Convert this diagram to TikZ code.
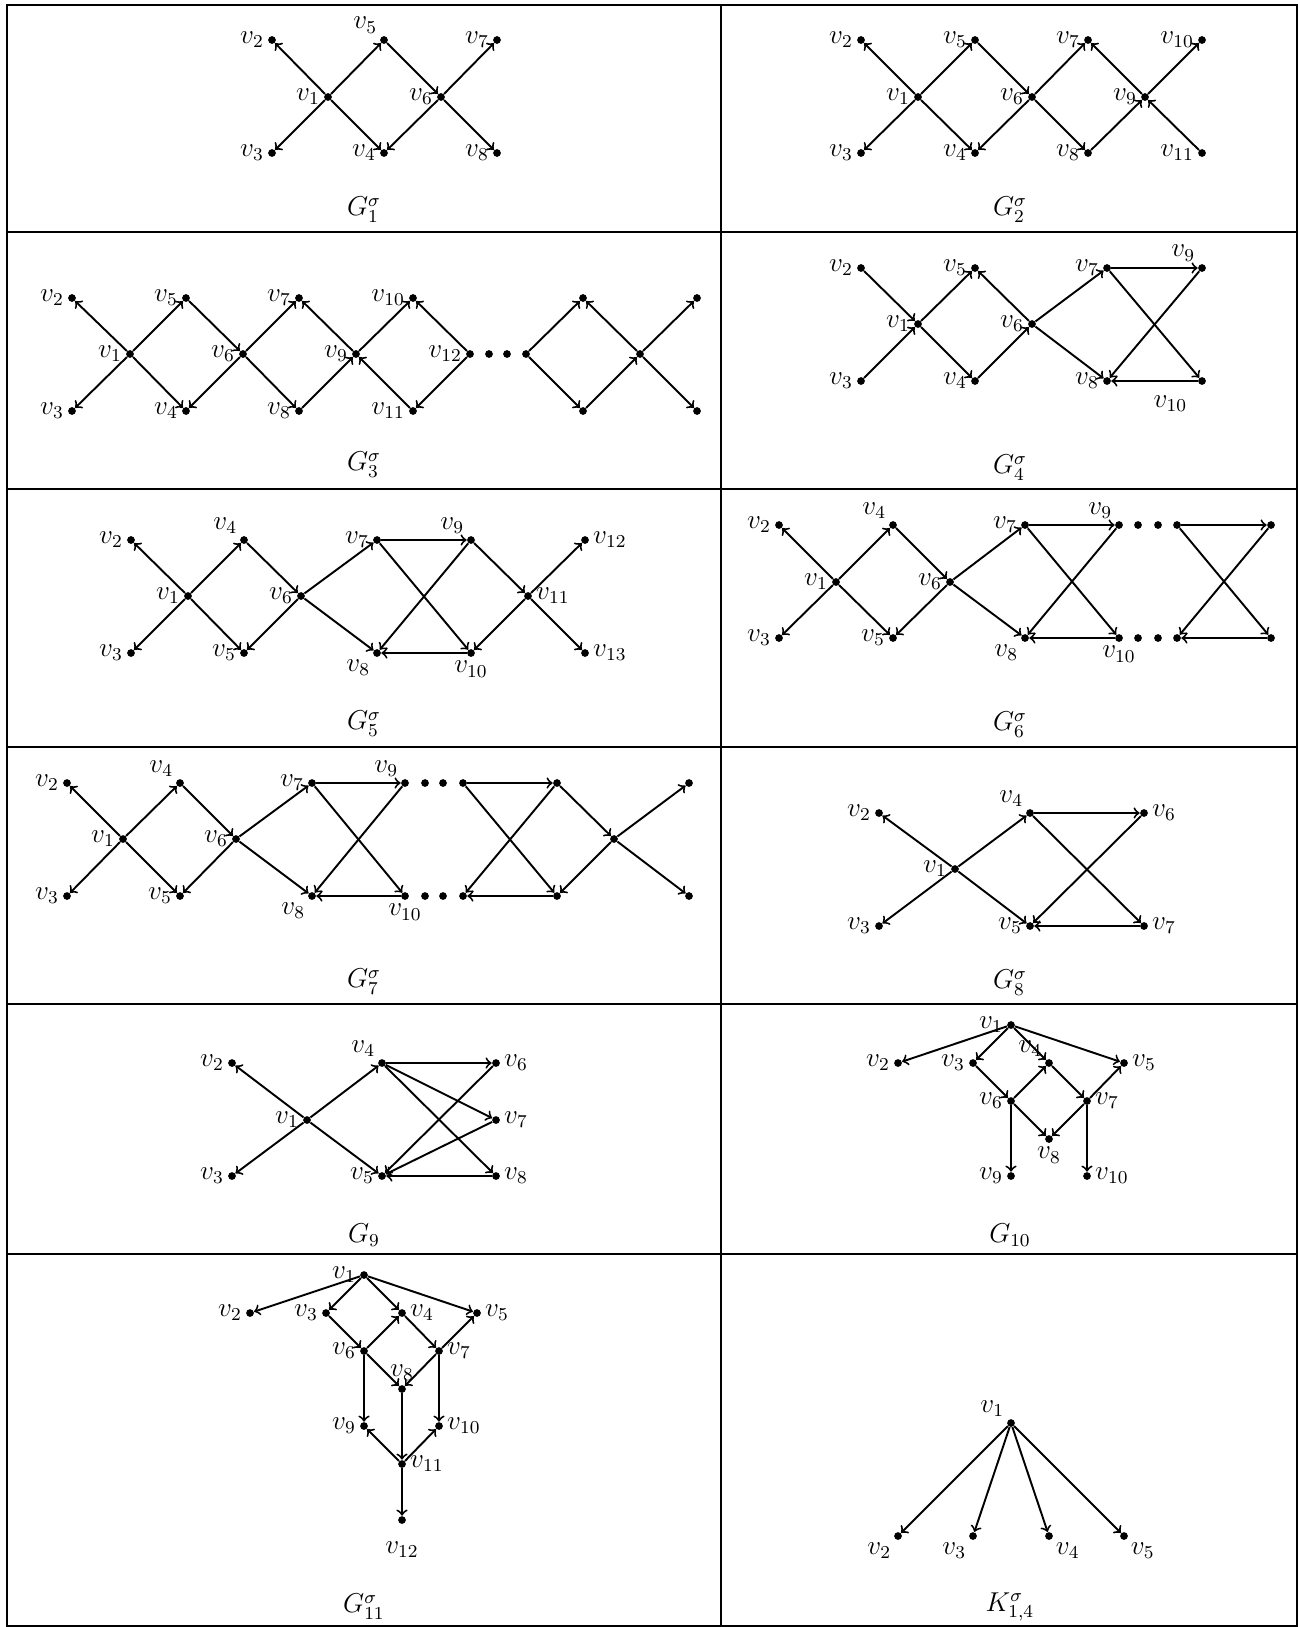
\documentclass[tikz,border=0pt]{standalone}
\begin{document}
\begin{tikzpicture}[x=0.44pt,y=-0.44pt,
  font=\large,
  vtx/.style={circle,fill,inner sep=0pt,minimum size=3.4pt},
  arr/.style={->,line width=0.85pt},
  every label/.style={inner sep=1.5pt}]
\useasboundingbox (0,0) rectangle (1299,1627);

% table
\draw[line width=0.5pt] (7,5) rectangle (1297,1626);
\draw[line width=0.5pt] (721,5) -- (721,1626);
\draw[line width=0.5pt] (7,232) -- (1297,232);
\draw[line width=0.5pt] (7,489) -- (1297,489);
\draw[line width=0.5pt] (7,747) -- (1297,747);
\draw[line width=0.5pt] (7,1004) -- (1297,1004);
\draw[line width=0.5pt] (7,1254) -- (1297,1254);

% G_1
\node[vtx,label=left:$v_1$] (p1v1) at (328,97) {};
\node[vtx,label=left:$v_2$] (p1v2) at (272,40) {};
\node[vtx,label=left:$v_3$] (p1v3) at (272,153) {};
\node[vtx,label=left:$v_4$] (p1v4) at (384,153) {};
\node[vtx,label=above left:$v_5$] (p1v5) at (384,40) {};
\node[vtx,label=left:$v_6$] (p1v6) at (441,97) {};
\node[vtx,label=left:$v_7$] (p1v7) at (497,40) {};
\node[vtx,label=left:$v_8$] (p1v8) at (497,153) {};
\path[arr] (p1v1) edge (p1v2) edge (p1v3) edge (p1v4) edge (p1v5);
\path[arr] (p1v5) edge (p1v6);
\path[arr] (p1v6) edge (p1v4) edge (p1v7) edge (p1v8);
\node (p1g) at (364,210) {$G_1^\sigma$};

% G_2
\node[vtx,label=left:$v_1$] (p2v1) at (918,97) {};
\node[vtx,label=left:$v_2$] (p2v2) at (861,40) {};
\node[vtx,label=left:$v_3$] (p2v3) at (861,153) {};
\node[vtx,label=left:$v_4$] (p2v4) at (975,153) {};
\node[vtx,label=left:$v_5$] (p2v5) at (975,40) {};
\node[vtx,label=left:$v_6$] (p2v6) at (1032,97) {};
\node[vtx,label=left:$v_7$] (p2v7) at (1088,40) {};
\node[vtx,label=left:$v_8$] (p2v8) at (1088,153) {};
\node[vtx,label=left:$v_9$] (p2v9) at (1145,97) {};
\node[vtx,label=left:$v_{10}$] (p2v10) at (1202,40) {};
\node[vtx,label=left:$v_{11}$] (p2v11) at (1202,153) {};
\path[arr] (p2v1) edge (p2v2) edge (p2v3) edge (p2v4) edge (p2v5);
\path[arr] (p2v5) edge (p2v6);
\path[arr] (p2v6) edge (p2v4) edge (p2v7) edge (p2v8);
\path[arr] (p2v8) edge (p2v9);
\path[arr] (p2v9) edge (p2v7) edge (p2v10);
\path[arr] (p2v11) edge (p2v9);
\node (p2g) at (1010,210) {$G_2^\sigma$};

% G_3
\node[vtx,label=left:$v_1$] (p3v1) at (130,354) {};
\node[vtx,label=left:$v_2$] (p3v2) at (72,298) {};
\node[vtx,label=left:$v_3$] (p3v3) at (72,411) {};
\node[vtx,label=left:$v_4$] (p3v4) at (186,411) {};
\node[vtx,label=left:$v_5$] (p3v5) at (186,298) {};
\node[vtx,label=left:$v_6$] (p3v6) at (243,354) {};
\node[vtx,label=left:$v_7$] (p3v7) at (299,298) {};
\node[vtx,label=left:$v_8$] (p3v8) at (299,411) {};
\node[vtx,label=left:$v_9$] (p3v9) at (356,354) {};
\node[vtx,label=left:$v_{10}$] (p3v10) at (413,298) {};
\node[vtx,label=left:$v_{11}$] (p3v11) at (413,411) {};
\node[vtx,label=left:$v_{12}$] (p3v12) at (470,354) {};
\node[vtx] (p3d1) at (489,354) {};
\node[vtx] (p3d2) at (507,354) {};
\node[vtx] (p3c) at (526,354) {};
\node[vtx] (p3a) at (583,298) {};
\node[vtx] (p3e) at (583,411) {};
\node[vtx] (p3m) at (640,354) {};
\node[vtx] (p3b) at (697,298) {};
\node[vtx] (p3f) at (697,411) {};
\path[arr] (p3v1) edge (p3v2) edge (p3v3) edge (p3v4) edge (p3v5);
\path[arr] (p3v5) edge (p3v6);
\path[arr] (p3v6) edge (p3v4) edge (p3v7) edge (p3v8);
\path[arr] (p3v8) edge (p3v9);
\path[arr] (p3v9) edge (p3v7) edge (p3v10);
\path[arr] (p3v11) edge (p3v9);
\path[arr] (p3v12) edge (p3v10) edge (p3v11);
\path[arr] (p3c) edge (p3a) edge (p3e);
\path[arr] (p3e) edge (p3m);
\path[arr] (p3m) edge (p3a) edge (p3b) edge (p3f);
\node (p3g) at (364,465) {$G_3^\sigma$};

% G_4
\node[vtx,label=left:$v_1$] (p4v1) at (918,324) {};
\node[vtx,label=left:$v_2$] (p4v2) at (861,268) {};
\node[vtx,label=left:$v_3$] (p4v3) at (861,381) {};
\node[vtx,label=left:$v_4$] (p4v4) at (975,381) {};
\node[vtx,label=left:$v_5$] (p4v5) at (975,268) {};
\node[vtx,label=left:$v_6$] (p4v6) at (1032,324) {};
\node[vtx,label=left:$v_7$] (p4v7) at (1107,268) {};
\node[vtx,label=left:$v_8$] (p4v8) at (1107,381) {};
\node[vtx,label=above left:$v_9$] (p4v9) at (1202,268) {};
\node[vtx,label={[label distance=5pt]below left:$v_{10}$}] (p4v10) at (1202,381) {};
\path[arr] (p4v2) edge (p4v1);
\path[arr] (p4v3) edge (p4v1);
\path[arr] (p4v1) edge (p4v5) edge (p4v4);
\path[arr] (p4v4) edge (p4v6);
\path[arr] (p4v6) edge (p4v5) edge (p4v7) edge (p4v8);
\path[arr] (p4v7) edge (p4v9) edge (p4v10);
\path[arr] (p4v9) edge (p4v8);
\path[arr] (p4v10) edge (p4v8);
\node (p4g) at (1010,468) {$G_4^\sigma$};

% G_5
\node[vtx,label=left:$v_1$] (p5v1) at (188,596) {};
\node[vtx,label=left:$v_2$] (p5v2) at (131,540) {};
\node[vtx,label=left:$v_3$] (p5v3) at (131,653) {};
\node[vtx,label=above left:$v_4$] (p5v4) at (244,540) {};
\node[vtx,label=left:$v_5$] (p5v5) at (244,653) {};
\node[vtx,label=left:$v_6$] (p5v6) at (301,596) {};
\node[vtx,label=left:$v_7$] (p5v7) at (377,540) {};
\node[vtx,label=below left:$v_8$] (p5v8) at (377,653) {};
\node[vtx,label=above left:$v_9$] (p5v9) at (471,540) {};
\node[vtx,label=below:$v_{10}$] (p5v10) at (471,653) {};
\node[vtx,label=right:$v_{11}$] (p5v11) at (528,596) {};
\node[vtx,label=right:$v_{12}$] (p5v12) at (585,540) {};
\node[vtx,label=right:$v_{13}$] (p5v13) at (585,653) {};
\path[arr] (p5v1) edge (p5v2) edge (p5v3) edge (p5v4) edge (p5v5);
\path[arr] (p5v4) edge (p5v6);
\path[arr] (p5v6) edge (p5v5) edge (p5v7) edge (p5v8);
\path[arr] (p5v7) edge (p5v9) edge (p5v10);
\path[arr] (p5v9) edge (p5v8) edge (p5v11);
\path[arr] (p5v10) edge (p5v8);
\path[arr] (p5v11) edge (p5v10) edge (p5v12) edge (p5v13);
\node (p5g) at (364,724) {$G_5^\sigma$};

% G_6
\node[vtx,label=left:$v_1$] (p6v1) at (836,582) {};
\node[vtx,label=left:$v_2$] (p6v2) at (779,525) {};
\node[vtx,label=left:$v_3$] (p6v3) at (779,638) {};
\node[vtx,label=above left:$v_4$] (p6v4) at (893,525) {};
\node[vtx,label=left:$v_5$] (p6v5) at (893,638) {};
\node[vtx,label=left:$v_6$] (p6v6) at (950,582) {};
\node[vtx,label=left:$v_7$] (p6v7) at (1025,525) {};
\node[vtx,label=below left:$v_8$] (p6v8) at (1025,638) {};
\node[vtx,label=above left:$v_9$] (p6v9) at (1119,525) {};
\node[vtx,label=below:$v_{10}$] (p6v10) at (1119,638) {};
\node[vtx] (p6d1) at (1138,525) {};
\node[vtx] (p6d2) at (1158,525) {};
\node[vtx] (p6d3) at (1138,638) {};
\node[vtx] (p6d4) at (1158,638) {};
\node[vtx] (p6a) at (1177,525) {};
\node[vtx] (p6b) at (1271,525) {};
\node[vtx] (p6c) at (1177,638) {};
\node[vtx] (p6d) at (1271,638) {};
\path[arr] (p6v1) edge (p6v2) edge (p6v3) edge (p6v4) edge (p6v5);
\path[arr] (p6v4) edge (p6v6);
\path[arr] (p6v6) edge (p6v5) edge (p6v7) edge (p6v8);
\path[arr] (p6v7) edge (p6v9) edge (p6v10);
\path[arr] (p6v9) edge (p6v8);
\path[arr] (p6v10) edge (p6v8);
\path[arr] (p6a) edge (p6b) edge (p6d);
\path[arr] (p6b) edge (p6c);
\path[arr] (p6d) edge (p6c);
\node (p6g) at (1010,725) {$G_6^\sigma$};

% G_7
\node[vtx,label=left:$v_1$] (p7v1) at (123,839) {};
\node[vtx,label=left:$v_2$] (p7v2) at (67,783) {};
\node[vtx,label=left:$v_3$] (p7v3) at (67,896) {};
\node[vtx,label=above left:$v_4$] (p7v4) at (180,783) {};
\node[vtx,label=left:$v_5$] (p7v5) at (180,896) {};
\node[vtx,label=left:$v_6$] (p7v6) at (236,839) {};
\node[vtx,label=left:$v_7$] (p7v7) at (312,783) {};
\node[vtx,label=below left:$v_8$] (p7v8) at (312,896) {};
\node[vtx,label=above left:$v_9$] (p7v9) at (405,783) {};
\node[vtx,label=below:$v_{10}$] (p7v10) at (405,896) {};
\node[vtx] (p7d1) at (425,783) {};
\node[vtx] (p7d2) at (443,783) {};
\node[vtx] (p7d3) at (425,896) {};
\node[vtx] (p7d4) at (443,896) {};
\node[vtx] (p7a) at (463,783) {};
\node[vtx] (p7b) at (557,783) {};
\node[vtx] (p7c) at (463,896) {};
\node[vtx] (p7d) at (557,896) {};
\node[vtx] (p7m) at (614,839) {};
\node[vtx] (p7e) at (689,783) {};
\node[vtx] (p7f) at (689,896) {};
\path[arr] (p7v1) edge (p7v2) edge (p7v3) edge (p7v4) edge (p7v5);
\path[arr] (p7v4) edge (p7v6);
\path[arr] (p7v6) edge (p7v5) edge (p7v7) edge (p7v8);
\path[arr] (p7v7) edge (p7v9) edge (p7v10);
\path[arr] (p7v9) edge (p7v8);
\path[arr] (p7v10) edge (p7v8);
\path[arr] (p7a) edge (p7b) edge (p7d);
\path[arr] (p7b) edge (p7c) edge (p7m);
\path[arr] (p7d) edge (p7c);
\path[arr] (p7m) edge (p7d) edge (p7e) edge (p7f);
\node (p7g) at (364,982) {$G_7^\sigma$};

% G_8
\node[vtx,label=left:$v_1$] (p8v1) at (955,869) {};
\node[vtx,label=left:$v_2$] (p8v2) at (879,813) {};
\node[vtx,label=left:$v_3$] (p8v3) at (879,926) {};
\node[vtx,label=above left:$v_4$] (p8v4) at (1030,813) {};
\node[vtx,label=left:$v_5$] (p8v5) at (1030,926) {};
\node[vtx,label=right:$v_6$] (p8v6) at (1144,813) {};
\node[vtx,label=right:$v_7$] (p8v7) at (1144,926) {};
\path[arr] (p8v1) edge (p8v2) edge (p8v3) edge (p8v4) edge (p8v5);
\path[arr] (p8v4) edge (p8v6) edge (p8v7);
\path[arr] (p8v6) edge (p8v5);
\path[arr] (p8v7) edge (p8v5);
\node (p8g) at (1010,983) {$G_8^\sigma$};

% G_9
\node[vtx,label=left:$v_1$] (p9v1) at (307,1120) {};
\node[vtx,label=left:$v_2$] (p9v2) at (232,1063) {};
\node[vtx,label=left:$v_3$] (p9v3) at (232,1176) {};
\node[vtx,label=above left:$v_4$] (p9v4) at (382,1063) {};
\node[vtx,label=left:$v_5$] (p9v5) at (382,1176) {};
\node[vtx,label=right:$v_6$] (p9v6) at (496,1063) {};
\node[vtx,label=right:$v_7$] (p9v7) at (496,1120) {};
\node[vtx,label=right:$v_8$] (p9v8) at (496,1176) {};
\path[arr] (p9v1) edge (p9v2) edge (p9v3) edge (p9v4) edge (p9v5);
\path[arr] (p9v4) edge (p9v6) edge (p9v7) edge (p9v8);
\path[arr] (p9v6) edge (p9v5);
\path[arr] (p9v7) edge (p9v5);
\path[arr] (p9v8) edge (p9v5);
\node (p9g) at (364,1235) {$G_9$};

% G_10
\node[vtx,label=left:$v_1$] (q0v1) at (1011,1025) {};
\node[vtx,label=left:$v_2$] (q0v2) at (898,1063) {};
\node[vtx,label=left:$v_3$] (q0v3) at (973,1063) {};
\node[vtx,label=above left:$v_4$] (q0v4) at (1049,1063) {};
\node[vtx,label=right:$v_5$] (q0v5) at (1124,1063) {};
\node[vtx,label=left:$v_6$] (q0v6) at (1011,1101) {};
\node[vtx,label=right:$v_7$] (q0v7) at (1087,1101) {};
\node[vtx,label=below:$v_8$] (q0v8) at (1049,1139) {};
\node[vtx,label=left:$v_9$] (q0v9) at (1011,1176) {};
\node[vtx,label=right:$v_{10}$] (q0v10) at (1087,1176) {};
\path[arr] (q0v1) edge (q0v2) edge (q0v3) edge (q0v4) edge (q0v5);
\path[arr] (q0v3) edge (q0v6);
\path[arr] (q0v6) edge (q0v4) edge (q0v8) edge (q0v9);
\path[arr] (q0v4) edge (q0v7);
\path[arr] (q0v7) edge (q0v5) edge (q0v8) edge (q0v10);
\node (q0g) at (1010,1235) {$G_{10}$};

% G_11
\node[vtx,label=left:$v_1$] (q1v1) at (364,1275) {};
\node[vtx,label=left:$v_2$] (q1v2) at (250,1313) {};
\node[vtx,label=left:$v_3$] (q1v3) at (326,1313) {};
\node[vtx,label=right:$v_4$] (q1v4) at (402,1313) {};
\node[vtx,label=right:$v_5$] (q1v5) at (477,1313) {};
\node[vtx,label=left:$v_6$] (q1v6) at (364,1351) {};
\node[vtx,label=right:$v_7$] (q1v7) at (439,1351) {};
\node[vtx,label=above:$v_8$] (q1v8) at (402,1389) {};
\node[vtx,label=left:$v_9$] (q1v9) at (364,1426) {};
\node[vtx,label=right:$v_{10}$] (q1v10) at (439,1426) {};
\node[vtx,label=right:$v_{11}$] (q1v11) at (402,1464) {};
\node[vtx,label={[label distance=6pt]below:$v_{12}$}] (q1v12) at (402,1520) {};
\path[arr] (q1v1) edge (q1v2) edge (q1v3) edge (q1v4) edge (q1v5);
\path[arr] (q1v3) edge (q1v6);
\path[arr] (q1v6) edge (q1v4) edge (q1v8) edge (q1v9);
\path[arr] (q1v4) edge (q1v7);
\path[arr] (q1v7) edge (q1v5) edge (q1v8) edge (q1v10);
\path[arr] (q1v8) edge (q1v11);
\path[arr] (q1v11) edge (q1v9) edge (q1v10) edge (q1v12);
\node (q1g) at (364,1607) {$G_{11}^\sigma$};

% K_{1,4}
\node[vtx,label=above left:$v_1$] (k1) at (1011,1423) {};
\node[vtx,label=below left:$v_2$] (k2) at (898,1536) {};
\node[vtx,label=below left:$v_3$] (k3) at (973,1536) {};
\node[vtx,label=below right:$v_4$] (k4) at (1049,1536) {};
\node[vtx,label=below right:$v_5$] (k5) at (1124,1536) {};
\path[arr] (k1) edge (k2) edge (k3) edge (k4) edge (k5);
\node (kg) at (1010,1607) {$K_{1,4}^\sigma$};
\end{tikzpicture}
\end{document}
